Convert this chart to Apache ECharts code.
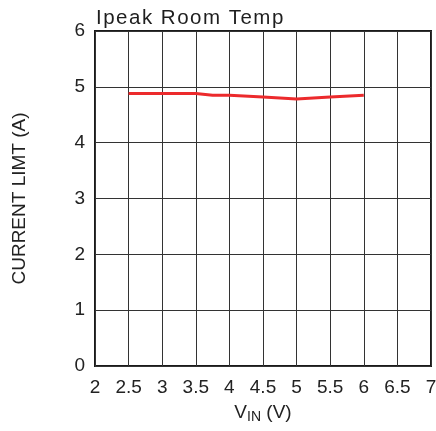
<!DOCTYPE html>
<html><head><meta charset="utf-8">
<script src="https://cdn.jsdelivr.net/npm/echarts@6/dist/echarts.min.js"></script>
<style>html,body{margin:0;padding:0;background:#fff}#c{width:436px;height:431px}</style>
</head><body><div id="c"></div>
<script>
const vin = [2.5, 3, 3.5, 3.75, 4, 4.5, 5, 5.5, 6];
const currentLimit = [4.88, 4.88, 4.88, 4.85, 4.85, 4.82, 4.78, 4.82, 4.85];
const xTicks = [2, 2.5, 3, 3.5, 4, 4.5, 5, 5.5, 6, 6.5, 7];
const yTicks = [0, 1, 2, 3, 4, 5, 6];
const TITLE = 'Ipeak Room Temp';
const FONT = 'Liberation Sans, Arial, sans-serif';
// letter tracking for the title text only
const origFill = CanvasRenderingContext2D.prototype.fillText;
CanvasRenderingContext2D.prototype.fillText = function (t, x, y, m) {
  if (t === TITLE && 'letterSpacing' in this) {
    const old = this.letterSpacing;
    this.letterSpacing = '1.5px';
    origFill.apply(this, arguments);
    this.letterSpacing = old;
  } else {
    origFill.apply(this, arguments);
  }
};
const chart = echarts.init(document.getElementById('c'), null, {renderer: 'canvas'});
chart.setOption({
  animation: false,
  title: {text: TITLE, left: 96, top: 8, padding: 0,
    textStyle: {fontFamily: FONT, fontSize: 20.5, fontWeight: 'normal', color: '#1e1e1e'}},
  grid: {left: 95, right: 5, top: 31, bottom: 65, show: true, borderColor: '#1a1a1a', borderWidth: 2,
    containLabel: false, outerBoundsMode: 'none'},
  xAxis: {type: 'value', min: 2, max: 7, interval: 0.5,
    axisLine: {show: false}, axisTick: {show: false},
    splitLine: {show: true, lineStyle: {color: '#333', width: 1}},
    axisLabel: {fontFamily: FONT, fontSize: 19, color: '#222', margin: 12,
      customValues: xTicks, formatter: v => String(v)},
    name: '{v|V}{s|IN}{v| (V)}', nameLocation: 'middle', nameGap: 35,
    nameTextStyle: {rich: {v: {fontFamily: FONT, fontSize: 19, color: '#222'},
      s: {fontFamily: FONT, fontSize: 14, color: '#222', verticalAlign: 'bottom', padding: [9,0,0,0]}}}},
  yAxis: {type: 'value', min: 0, max: 6, interval: 1,
    axisLine: {show: false}, axisTick: {show: false},
    splitLine: {show: true, lineStyle: {color: '#333', width: 1}},
    axisLabel: {fontFamily: FONT, fontSize: 19, color: '#222', margin: 10},
    name: 'CURRENT LIMT (A)', nameLocation: 'middle', nameGap: 66,
    nameTextStyle: {fontFamily: FONT, fontSize: 19, color: '#222'}},
  series: [{type: 'line', data: vin.map((x, i) => [x, currentLimit[i]]),
    symbol: 'none', lineStyle: {color: '#ec2a2c', width: 3}}]
});
</script></body></html>
